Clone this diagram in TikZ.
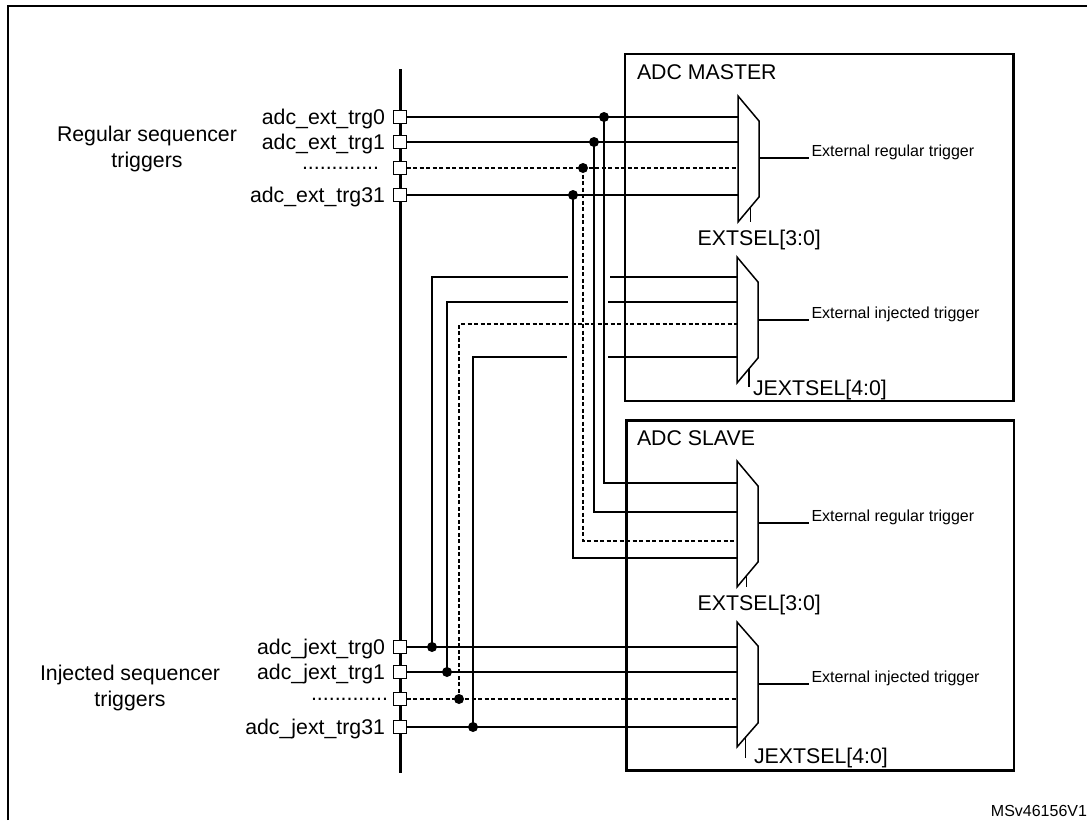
\documentclass[tikz,border=0pt]{standalone}
\usepackage{fontspec}
\setmainfont{Liberation Sans}
\begin{document}
\begin{tikzpicture}[x=1pt,y=-1pt,
  wire/.style={line width=1.5pt},
  dwire/.style={line width=1.5pt, dash pattern=on 4pt off 2.5pt},
  port/.style={draw, fill=white, line width=1.3pt, minimum size=13pt, inner sep=0pt, outer sep=0pt},
  jdot/.style={circle, fill=black, inner sep=0pt, minimum size=10pt},
  adcbox/.style={draw, line width=2.5pt, inner sep=0pt, outer sep=0pt},
  bus/.style={line width=3pt},
  frame/.style={line width=2.2pt},
  mux/.style={line width=1.5pt, line join=miter},
  big/.style={font=\fontsize{21.3}{26}\selectfont, inner sep=0pt, outer sep=0pt},
  small/.style={font=\fontsize{16}{19}\selectfont, inner sep=0pt, outer sep=0pt}]
\useasboundingbox (0,0) rectangle (1087,820);
% outer frame (cut at right and bottom)
\draw[frame] (8,820) -- (8,6) -- (1087,6);

% ADC boxes
\node[adcbox, minimum width=388.5pt, minimum height=347pt] (master) at (819.25,227.5) {};
\node[adcbox, minimum width=387.3pt, minimum height=350pt] (slave) at (820.35,595.7) {};
\node[big, anchor=base west] (tmaster) at (637,79) {ADC MASTER};
\node[big, anchor=base west] (tslave) at (637,445) {ADC SLAVE};

% bus
\coordinate (bustop) at (400,69);
\coordinate (busbot) at (400,773);
\draw[bus] (bustop) -- (busbot);

% coordinates of mux inputs
\coordinate (mr0) at (738,117); \coordinate (mr1) at (738,142);
\coordinate (mr2) at (738,168); \coordinate (mr3) at (738,195);
\coordinate (mi0) at (737,277); \coordinate (mi1) at (737,302);
\coordinate (mi2) at (737,324); \coordinate (mi3) at (737,357);
\coordinate (sr0) at (737,483); \coordinate (sr1) at (737,512);
\coordinate (sr2) at (737,541); \coordinate (sr3) at (737,558);
\coordinate (si0) at (737,647); \coordinate (si1) at (737,672);
\coordinate (si2) at (737,699); \coordinate (si3) at (737,727);
% gaps at crossings
\coordinate (gl0) at (568,277); \coordinate (gr0) at (610,277);
\coordinate (gl1) at (568,302); \coordinate (gr1) at (608,302);
\coordinate (gl3) at (567,357); \coordinate (gr3) at (608,357);

% ports
\node[port] (r0) at (400,117) {};
\node[port] (r1) at (400,142) {};
\node[port] (r2) at (400,168) {};
\node[port] (r3) at (400,195) {};
\node[port] (j0) at (400,647) {};
\node[port] (j1) at (400,672) {};
\node[port] (j2) at (400,699) {};
\node[port] (j3) at (400,727) {};

% labels of ports
\node[big, anchor=base east] (lr0) at (385,124.6) {adc\_ext\_trg0};
\node[big, anchor=base east] (lr1) at (385,149.6) {adc\_ext\_trg1};
\node[big, anchor=base east] (lr2) at (379,169.3) {.............};
\node[big, anchor=base east] (lr3) at (385,202.6) {adc\_ext\_trg31};
\node[big, anchor=base east] (lj0) at (385,654.6) {adc\_jext\_trg0};
\node[big, anchor=base east] (lj1) at (385,679.6) {adc\_jext\_trg1};
\node[big, anchor=base east] (lj2) at (388,700.3) {.............};
\node[big, anchor=base east] (lj3) at (385,734.6) {adc\_jext\_trg31};
\node[big, anchor=north, align=center] (treg) at (147,126.5) {Regular sequencer\\triggers};
\node[big, anchor=north, align=center] (tinj) at (130,665.5) {Injected sequencer\\triggers};

% regular wires to master
\draw[wire] (r0.east) -- (mr0);
\draw[wire] (r1.east) -- (mr1);
\draw[dwire] (r2.east) -- (mr2);
\draw[wire] (r3.east) -- (mr3);
% regular junctions to slave
\node[jdot] (dr0) at (604,117) {};
\node[jdot] (dr1) at (594,142) {};
\node[jdot] (dr2) at (583,168) {};
\node[jdot] (dr3) at (573,195) {};
\draw[wire] (dr0.center) |- (sr0);
\draw[wire] (dr1.center) |- (sr1);
\draw[dwire] (dr2.center) |- (sr2);
\draw[wire] (dr3.center) |- (sr3);

% injected wires to slave
\draw[wire] (j0.east) -- (si0);
\draw[wire] (j1.east) -- (si1);
\draw[dwire] (j2.east) -- (si2);
\draw[wire] (j3.east) -- (si3);
% injected junctions to master
\node[jdot] (dj0) at (432,647) {};
\node[jdot] (dj1) at (447,672) {};
\node[jdot] (dj2) at (459,699) {};
\node[jdot] (dj3) at (473,727) {};
\draw[wire] (dj0.center) |- (gl0);
\draw[wire] (gr0) -- (mi0);
\draw[wire] (dj1.center) |- (gl1);
\draw[wire] (gr1) -- (mi1);
\draw[dwire] (dj2.center) |- (mi2);
\draw[wire] (dj3.center) |- (gl3);
\draw[wire] (gr3) -- (mi3);

% multiplexers
\draw[mux] (738,96) -- (759,121) -- (759,197) -- (738,222) -- cycle;
\draw[mux] (737,257) -- (758,282) -- (758,358) -- (737,383) -- cycle;
\draw[mux] (737,461) -- (758,486) -- (758,562) -- (737,587) -- cycle;
\draw[mux] (737,622) -- (758,646) -- (758,723) -- (737,747) -- cycle;

% select lines
\coordinate (s0a) at (750.7,207); \coordinate (s0b) at (750.7,222);
\coordinate (s1a) at (749,368.5); \coordinate (s1b) at (749,387);
\coordinate (s2a) at (746.7,575.5); \coordinate (s2b) at (746.7,587);
\coordinate (s3a) at (745.7,737); \coordinate (s3b) at (745.7,758);
\draw[mux] (s0a) -- (s0b);
\draw[mux] (s1a) -- (s1b);
\draw[mux] (s2a) -- (s2b);
\draw[mux] (s3a) -- (s3b);
\node[big, anchor=base west] (sel0) at (697.7,245.5) {EXTSEL[3:0]};
\node[big, anchor=base west] (sel1) at (753,395.5) {JEXTSEL[4:0]};
\node[big, anchor=base west] (sel2) at (697.7,610.5) {EXTSEL[3:0]};
\node[big, anchor=base west] (sel3) at (754,763) {JEXTSEL[4:0]};

% outputs
\coordinate (o0a) at (759,158); \coordinate (o0b) at (809,158);
\coordinate (o1a) at (758,320); \coordinate (o1b) at (809,320);
\coordinate (o2a) at (758,523); \coordinate (o2b) at (809,523);
\coordinate (o3a) at (758,684); \coordinate (o3b) at (809,684);
\draw[wire] (o0a) -- (o0b);
\draw[wire] (o1a) -- (o1b);
\draw[wire] (o2a) -- (o2b);
\draw[wire] (o3a) -- (o3b);
\node[small, anchor=base west] (out0) at (811.5,156) {External regular trigger};
\node[small, anchor=base west] (out1) at (811.5,318) {External injected trigger};
\node[small, anchor=base west] (out2) at (811.5,521) {External regular trigger};
\node[small, anchor=base west] (out3) at (811.5,682.5) {External injected trigger};

\node[small, anchor=base east] (ref) at (1087,816) {MSv46156V1};
\end{tikzpicture}
\end{document}
